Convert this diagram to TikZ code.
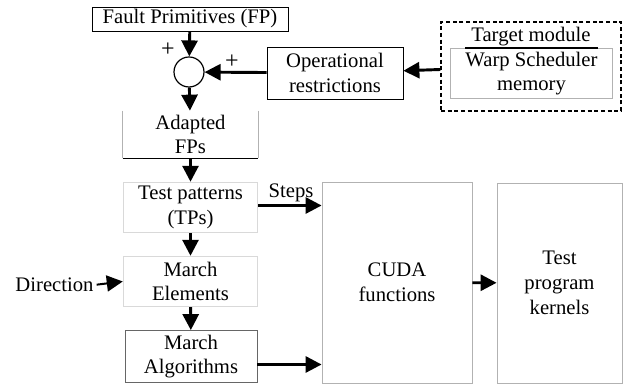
\documentclass[tikz,border=0pt]{standalone}
\usepackage{fontspec}
\setmainfont{Liberation Serif}
\usetikzlibrary{arrows.meta}

\tikzset{every picture/.style={line width=0.75pt}}
\tikzset{
  blk/.style={draw=black, line width=0.6pt, align=center, inner sep=0pt},
  lblk/.style={draw=gray!60, line width=0.6pt, align=center, inner sep=0pt},
  flow/.style={line width=2.2pt, -{Triangle[length=12pt,width=12pt]}},
  lbl/.style={inner sep=0pt}
}

\begin{document}
\begin{tikzpicture}[x=0.75pt,y=0.75pt,yscale=-1,xscale=1,font=\fontsize{15.5}{18.5}\selectfont]
\useasboundingbox (0,0) rectangle (625,384);

% Fault primitives and sum
\node [blk, minimum width=147pt, minimum height=18pt] (fp) at (190,19) {Fault Primitives (FP)};
\node [draw, circle, line width=0.9pt, minimum size=22.5pt, inner sep=0pt] (sum) at (189,72) {};
\node [lbl, font=\fontsize{18}{20}\selectfont] (plus1) at (168,50) {+};
\node [lbl, font=\fontsize{18}{20}\selectfont] (plus2) at (232,62) {+};

% Operational restrictions
\node [blk, minimum width=102pt, minimum height=39pt] (ops) at (335,73) {Operational\\restrictions};

% Target module
\node [draw, dash pattern=on 3pt off 2pt, line width=0.9pt, minimum width=135pt, minimum height=66.75pt] (target) at (531,66.5) {};
\node [lblk, minimum width=122pt, minimum height=38pt] (wsm) at (531.5,73.5) {Warp Scheduler\\memory};
\node [lbl] (tmod) at (531,37) {Target module};
\draw [line width=1.1pt] (465,48) -- (598,48);

% Adapted FPs (open top)
\node [align=center, minimum width=101pt, minimum height=35pt, inner sep=0pt] (adfp) at (190.5,134.5) {Adapted\\FPs};
\draw [gray!60, line width=0.6pt] (adfp.north west) -- (adfp.south west);
\draw [gray!60, line width=0.6pt] (adfp.north east) -- (adfp.south east);
\draw [line width=0.9pt] (adfp.south west) -- (adfp.south east);

% left column
\node [lblk, draw=gray!30, minimum width=101pt, minimum height=38pt] (tp) at (190.5,207.5) {Test patterns\\(TPs)};
\node [lblk, draw=gray!30, minimum width=101pt, minimum height=38pt] (me) at (190.5,281.5) {March\\Elements};
\node [lblk, draw=gray!80!black, minimum width=99pt, minimum height=39pt] (ma) at (191,356.5) {March\\Algorithms};
\node [lbl, anchor=east] (dir) at (94,285) {Direction};
\node [lbl] (steps) at (291,193) {Steps};

% right blocks
\node [lblk, minimum width=112.5pt, minimum height=150.75pt] (cuda) at (397,282.5) {CUDA\\functions};
\node [lblk, minimum width=93.75pt, minimum height=150pt] (tpk) at (559.5,283) {Test\\program\\kernels};

% Connections
\draw [flow] (fp) -- (sum);
\draw [flow] (ops) -- (sum);
\draw [flow] (target) -- (ops);
\draw [flow] (sum) -- (adfp);
\draw [flow] (adfp) -- (tp);
\draw [flow] (tp) -- (me);
\draw [flow] (me) -- (ma);
\draw [flow, line width=1.5pt, shorten <=2pt] (dir.east) -- (me.west);
\draw [flow] ([yshift=-1.5]tp.east) -- ([yshift=-1.5]tp.east -| cuda.west);
\draw [flow] ([yshift=6]ma.east) -- ([yshift=6]ma.east -| cuda.west);
\draw [flow] (cuda) -- (tpk);

\end{tikzpicture}
\end{document}
